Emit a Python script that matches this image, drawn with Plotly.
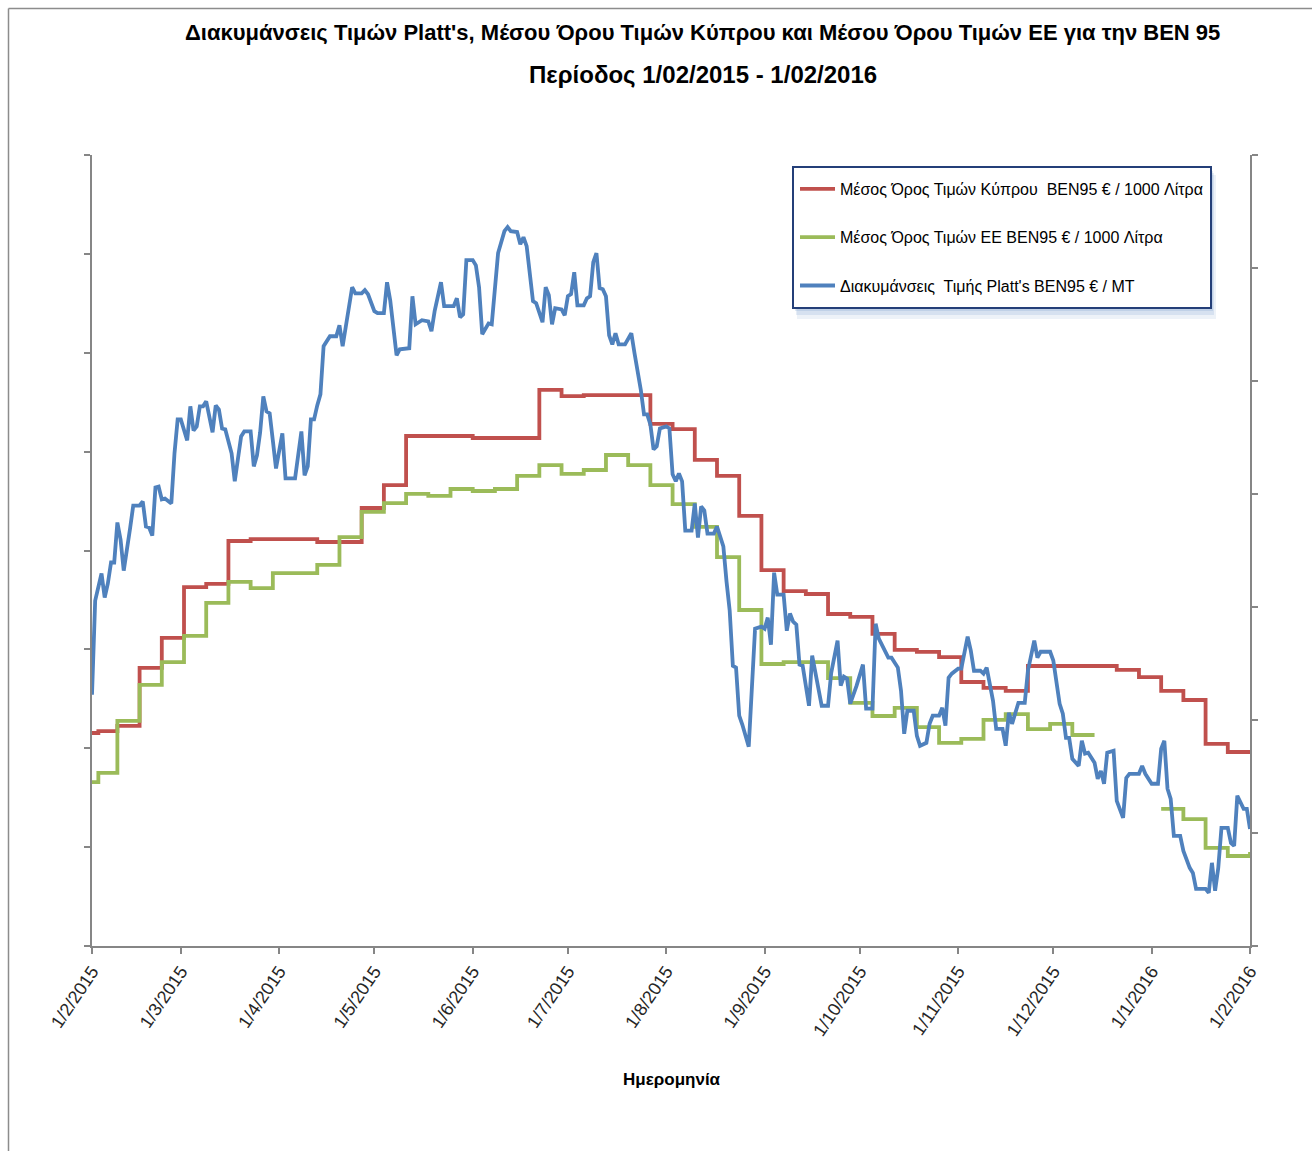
import plotly.graph_objects as go
import pandas as pd

# ---------------- text ----------------
title_line1 = "Διακυμάνσεις Τιμών Platt's, Μέσου Όρου Τιμών Κύπρου και Μέσου Όρου Τιμών ΕΕ για την BEN 95"
title_line2 = "Περίοδος 1/02/2015 - 1/02/2016"
x_title = "Ημερομηνία"
name_cyprus = "Μέσος Όρος Τιμών Κύπρου  BEN95 € / 1000 Λίτρα"
name_eu = "Μέσος Όρος Τιμών ΕΕ BEN95 € / 1000 Λίτρα"
name_platts = "Διακυμάνσεις  Τιμής Platt's BEN95 € / MT"

# ---------------- x ticks ----------------
tick_dates = ["2015-02-01", "2015-03-01", "2015-04-01", "2015-05-01", "2015-06-01",
              "2015-07-01", "2015-08-01", "2015-09-01", "2015-10-01", "2015-11-01",
              "2015-12-01", "2016-01-01", "2016-02-01"]
tick_labels = ["1/2/2015", "1/3/2015", "1/4/2015", "1/5/2015", "1/6/2015", "1/7/2015",
               "1/8/2015", "1/9/2015", "1/10/2015", "1/11/2015", "1/12/2015",
               "1/1/2016", "1/2/2016"]

# ---------------- weekly averages (€/1000 L, primary axis) ----------------
week_dates = ["2015-02-01", "2015-02-03", "2015-02-09", "2015-02-16", "2015-02-23",
              "2015-03-02", "2015-03-09", "2015-03-16", "2015-03-23", "2015-03-30",
              "2015-04-06", "2015-04-13", "2015-04-20", "2015-04-27",
              "2015-05-04", "2015-05-11", "2015-05-18", "2015-05-25",
              "2015-06-01", "2015-06-08", "2015-06-15", "2015-06-22", "2015-06-29",
              "2015-07-06", "2015-07-13", "2015-07-20", "2015-07-27",
              "2015-08-03", "2015-08-10", "2015-08-17", "2015-08-24", "2015-08-31",
              "2015-09-07", "2015-09-14", "2015-09-21", "2015-09-28",
              "2015-10-05", "2015-10-12", "2015-10-19", "2015-10-26",
              "2015-11-02", "2015-11-09", "2015-11-16", "2015-11-23", "2015-11-30",
              "2015-12-07", "2015-12-14", "2015-12-21", "2015-12-28",
              "2016-01-04", "2016-01-11", "2016-01-18", "2016-01-25", "2016-02-01"]

cyprus_values = [507.7, 508.7, 511.3, 540.6, 555.8,
                 581.5, 583.1, 604.8, 605.8, 605.8,
                 605.8, 604.3, 604.3, 621.5,
                 633.1, 657.9, 657.9, 657.9,
                 656.9, 656.9, 656.9, 681.2, 678.1,
                 678.6, 678.6, 678.6, 664.0,
                 661.4, 645.8, 637.7, 617.5, 590.1,
                 579.5, 578.0, 567.9, 566.4,
                 557.8, 549.7, 548.7, 546.1,
                 533.5, 530.5, 529.0, 541.6, 541.6,
                 541.6, 541.6, 539.6, 536.0,
                 529.0, 524.4, 502.2, 498.1, 498.1]

eu_values = [482.9, 487.5, 513.8, 532.0, 543.6,
             556.8, 573.5, 584.1, 581.0, 588.6,
             588.6, 592.7, 606.8, 619.5,
             624.0, 628.6, 627.6, 631.1,
             630.1, 631.1, 637.7, 643.2, 638.7,
             640.7, 648.3, 643.2, 633.1,
             623.5, 611.9, 596.7, 569.9, 542.6,
             543.6, 543.6, 535.5, 522.9,
             516.3, 520.4, 510.7, 502.7,
             504.7, 514.3, 517.3, 509.7, 512.3,
             506.7, 506.7, None, None,
             469.3, 464.2, 449.6, 445.5, 447.5]

# ---------------- Platt's daily quotes (€/MT, secondary axis) ----------------
platts_start = "2015-02-01"
platts_day = [0, 1, 3, 4, 5, 6, 7, 8, 9, 10, 12, 13, 15, 16, 17, 18, 19, 20, 21, 22,
              23, 25, 26, 27, 28, 30, 31, 32, 33, 34, 35, 36, 38, 39, 40, 41, 42, 44, 45, 46,
              47, 48, 50, 51, 52, 53, 54, 55, 56, 57, 58, 60, 61, 64, 66, 67, 68, 69, 70, 71,
              72, 73, 75, 77, 78, 79, 80, 82, 83, 85, 86, 87, 89, 90, 92, 93, 94, 96, 97, 100,
              101, 102, 104, 106, 107, 108, 110, 111, 114, 115, 116, 117, 118, 120, 121, 122, 123, 125, 126, 128,
              130, 131, 132, 134, 135, 136, 137, 138, 139, 140, 142, 143, 144, 145, 146, 148, 149, 150, 151, 152,
              153, 155, 156, 157, 158, 159, 160, 161, 162, 163, 164, 165, 166, 168, 170, 171, 172, 173, 174, 175,
              176, 177, 178, 179, 181, 182, 183, 184, 185, 186, 187, 189, 190, 191, 192, 193, 194, 196, 197, 199,
              200, 201, 202, 203, 204, 205, 207, 208, 209, 211, 212, 213, 214, 215, 216, 218, 219, 220, 221, 222,
              223, 224, 226, 227, 230, 232, 233, 235, 236, 237, 238, 239, 241, 243, 244, 246, 247, 248, 249, 251,
              252, 254, 255, 256, 257, 259, 260, 261, 263, 264, 265, 267, 268, 269, 270, 271, 273, 274, 276, 277,
              278, 280, 281, 282, 284, 285, 287, 288, 289, 290, 292, 294, 295, 297, 298, 299, 302, 303, 305, 306,
              307, 308, 309, 311, 312, 313, 314, 316, 317, 318, 319, 320, 322, 323, 325, 326, 327, 330, 331, 332,
              334, 336, 337, 338, 339, 340, 341, 343, 344, 346, 347, 348, 351, 352, 353, 354, 355, 356, 358, 359,
              360, 361, 363, 364, 365]
platts_values = [411.2, 452.8, 464.8, 454.2, 460.4, 469.7, 469.7, 487.4, 479.9, 466.1,
                 484.7, 494.9, 494.9, 496.7, 485.6, 485.2, 481.6, 502.9, 503.3, 497.6,
                 498.0, 495.8, 518.0, 533.0, 533.0, 523.7, 538.8, 528.1, 529.9, 538.8,
                 538.8, 541.0, 527.3, 539.2, 537.4, 529.0, 528.6, 518.0, 505.6, 517.1,
                 525.5, 527.7, 527.7, 512.2, 517.1, 527.3, 543.2, 536.6, 535.7, 523.7,
                 511.3, 526.8, 506.9, 506.9, 527.7, 508.2, 512.2, 533.0, 533.0, 539.2,
                 544.1, 565.4, 569.8, 569.8, 574.7, 565.4, 574.7, 591.5, 588.8, 588.8,
                 590.2, 588.4, 580.9, 580.0, 580.0, 593.7, 585.7, 561.4, 564.0, 564.5,
                 587.5, 575.1, 576.9, 576.4, 572.0, 580.9, 593.7, 583.1, 583.1, 586.6,
                 578.2, 579.5, 603.5, 603.5, 601.2, 591.5, 570.7, 575.5, 575.1, 606.6,
                 616.3, 618.1, 616.3, 615.9, 610.5, 613.6, 609.7, 597.3, 585.3, 584.4,
                 576.0, 591.5, 588.0, 575.1, 582.2, 581.7, 579.1, 587.5, 588.4, 598.1,
                 583.5, 583.5, 586.6, 587.5, 602.6, 606.6, 591.1, 590.6, 587.5, 570.2,
                 566.2, 571.1, 566.2, 566.2, 571.1, 562.3, 554.3, 545.9, 535.2, 535.2,
                 530.8, 519.7, 521.1, 529.0, 529.9, 529.0, 508.7, 505.6, 509.1, 505.6,
                 483.8, 483.8, 495.8, 480.7, 494.5, 492.7, 482.5, 482.5, 485.6, 476.8,
                 461.3, 448.4, 424.0, 423.2, 401.9, 397.9, 388.2, 413.4, 440.4, 441.3,
                 440.4, 445.3, 433.3, 465.2, 455.5, 455.5, 439.5, 447.1, 443.5, 442.2,
                 424.5, 424.0, 406.3, 428.5, 406.3, 406.3, 420.9, 435.1, 415.2, 419.2,
                 418.3, 407.2, 415.2, 424.5, 405.0, 405.0, 442.6, 436.0, 432.9, 427.6,
                 427.6, 423.2, 413.0, 393.9, 404.1, 404.1, 393.0, 388.6, 389.9, 398.3,
                 401.9, 401.9, 405.4, 397.5, 418.7, 420.5, 422.7, 422.7, 436.9, 430.7,
                 421.8, 421.8, 420.5, 423.2, 408.5, 396.1, 396.1, 388.6, 403.2, 398.3,
                 407.6, 407.6, 421.8, 435.1, 427.6, 430.2, 430.2, 426.3, 407.2, 402.8,
                 392.1, 392.1, 382.8, 379.7, 390.8, 385.1, 385.5, 381.1, 374.0, 377.5,
                 371.8, 385.5, 386.4, 364.2, 356.7, 374.4, 376.2, 376.2, 379.7, 376.2,
                 371.8, 371.8, 387.3, 390.8, 369.6, 365.1, 348.7, 348.7, 342.1, 334.6,
                 332.3, 325.3, 325.3, 323.5, 336.8, 324.4, 334.6, 352.3, 352.3, 345.6,
                 344.3, 366.5, 360.7, 360.7, 351.8]

base = pd.Timestamp(platts_start)
platts_dates = [(base + pd.Timedelta(days=d)).strftime("%Y-%m-%d") for d in platts_day]

RED = "#C0504D"
GREEN = "#9BBB59"
BLUE = "#4F81BD"
AXIS = "#868686"
FONT = "Liberation Sans, Arial, sans-serif"

fig = go.Figure()
fig.add_trace(go.Scatter(x=week_dates, y=cyprus_values, name=name_cyprus, mode="lines",
                         line=dict(color=RED, width=3.8, shape="hv"), legendgroup="a"))
fig.add_trace(go.Scatter(x=week_dates, y=eu_values, name=name_eu, mode="lines",
                         line=dict(color=GREEN, width=3.8, shape="hv"), connectgaps=False,
                         legendgroup="b"))
fig.add_trace(go.Scatter(x=platts_dates, y=platts_values, name=name_platts, mode="lines",
                         line=dict(color=BLUE, width=3.8), yaxis="y2", legendgroup="c"))

W, H = 1312, 1151
L, R, T, B = 92, 62, 155, 205
pw, ph = W - L - R, H - T - B


def px(x):
    return (x - L) / pw


def py(y):
    return (H - B - y) / ph


def box(x0, y0, x1, y1, **kw):
    return dict(type="rect", xref="paper", yref="paper",
                x0=px(x0), x1=px(x1), y0=py(y1), y1=py(y0), layer="above", **kw)


fig.update_layout(
    width=W, height=H,
    margin=dict(l=L, r=R, t=T, b=B, pad=0),
    paper_bgcolor="white", plot_bgcolor="white",
    font=dict(family=FONT, color="#000000"),
    showlegend=True,
    legend=dict(x=px(795), y=py(172), xanchor="left", yanchor="top",
                bgcolor="rgba(0,0,0,0)", borderwidth=0,
                font=dict(size=16, family=FONT, color="#000000"),
                traceorder="grouped", tracegroupgap=24.5, itemwidth=35),
    xaxis=dict(type="date", range=["2015-02-01", "2016-02-01"],
               tickvals=tick_dates, ticktext=tick_labels, tickangle=-56,
               ticks="outside", ticklen=6, tickcolor=AXIS, tickwidth=1.5,
               showline=True, linecolor=AXIS, linewidth=1.5,
               showgrid=False, zeroline=False,
               tickfont=dict(size=18, color="#262626", family=FONT)),
    yaxis=dict(range=[400, 800], tick0=400, dtick=50, showticklabels=False,
               ticks="outside", ticklen=6, tickcolor=AXIS, tickwidth=1.5,
               showline=True, linecolor=AXIS, linewidth=1.5,
               showgrid=False, zeroline=False),
    yaxis2=dict(range=[300, 650], tick0=300, dtick=50, showticklabels=False,
                overlaying="y", side="right",
                ticks="outside", ticklen=6, tickcolor=AXIS, tickwidth=1.5,
                showline=True, linecolor=AXIS, linewidth=1.5,
                showgrid=False, zeroline=False),
    annotations=[
        dict(text="<b>" + title_line1 + "</b>", x=px(703), y=py(33), xref="paper", yref="paper",
             xanchor="center", yanchor="middle", showarrow=False,
             font=dict(size=22, family=FONT, color="#000000")),
        dict(text="<b>" + title_line2 + "</b>", x=px(703), y=py(74), xref="paper", yref="paper",
             xanchor="center", yanchor="middle", showarrow=False,
             font=dict(size=24, family=FONT, color="#000000")),
        dict(text="<b>" + x_title + "</b>", x=px(672), y=py(1079), xref="paper", yref="paper",
             xanchor="center", yanchor="middle", showarrow=False,
             font=dict(size=17, family=FONT, color="#000000")),
    ],
    shapes=[
        dict(type="line", xref="paper", yref="paper", x0=px(8.5), x1=px(1330),
             y0=py(8.5), y1=py(8.5), line=dict(color="#8C8C8C", width=1.5)),
        dict(type="line", xref="paper", yref="paper", x0=px(8.5), x1=px(8.5),
             y0=py(8.5), y1=py(1170), line=dict(color="#8C8C8C", width=1.5)),
        # soft shadow and frame of the legend box
        box(797, 175, 1216, 319, line=dict(width=0), fillcolor="rgba(79,129,189,0.10)"),
        box(796, 173, 1214, 315, line=dict(width=0), fillcolor="rgba(79,129,189,0.14)"),
        box(795, 171, 1213, 311, line=dict(width=0), fillcolor="rgba(79,129,189,0.16)"),
        box(793, 167, 1211, 308, line=dict(color="#243F78", width=2), fillcolor="white"),
    ],
)

fig.write_html("out.html", config={"displayModeBar": False},
               post_script="document.body.style.margin='0';document.body.style.overflow='hidden';")
